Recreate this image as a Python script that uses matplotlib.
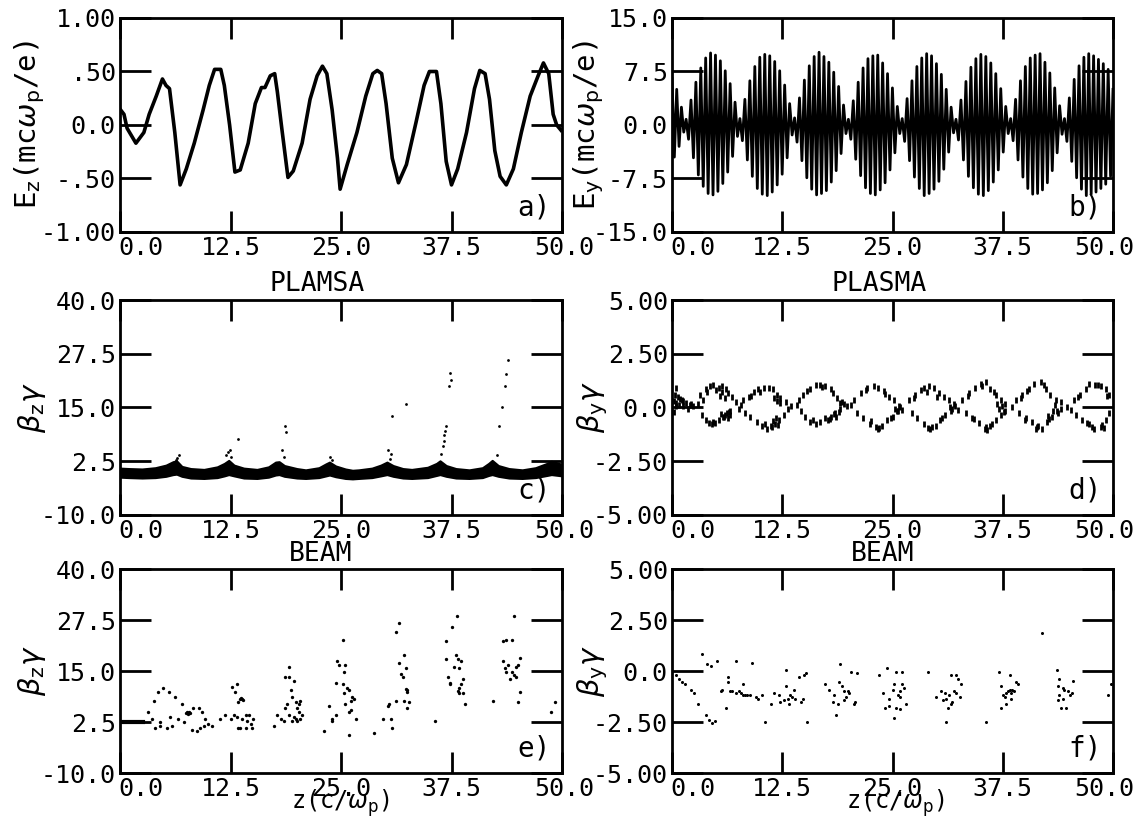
import numpy as np
import matplotlib
matplotlib.use("Agg")
import matplotlib.pyplot as plt
import matplotlib.transforms as mtrans

plt.rcParams['font.family'] = ['DejaVu Sans Mono', 'DejaVu Sans']
plt.rcParams['mathtext.fontset'] = 'dejavusans'

# ---------------- data ----------------
xticks = [0, 12.5, 25, 37.5, 50]
xtick_labels = ['0.0', '12.5', '25.0', '37.5', '50.0']

# panel a: Ez
ez_z = [0.08, 0.45, 0.8, 1.8, 2.7, 3.3, 4.1, 4.8, 5.2, 5.6, 6.2, 6.8, 7.5, 8.4, 9.4, 10.1, 10.7, 11.4,
        11.8, 12.4, 13.0, 13.6, 14.5, 15.3, 16.0, 16.4, 17.0, 17.5, 17.8, 18.3, 19.0, 19.6, 20.6, 21.5,
        22.3, 22.9, 23.4, 24.0, 24.6, 24.9, 25.7, 26.8, 27.8, 28.6, 29.1, 29.6, 30.1, 30.8, 31.5, 32.4,
        33.5, 34.4, 35.0, 35.8, 36.3, 36.9, 37.5, 38.2, 39.2, 40.1, 40.7, 41.3, 41.8, 42.4, 43.0, 43.7,
        44.5, 45.4, 46.4, 47.3, 47.9, 48.5, 49.0, 49.4, 49.9]
ez_v = [0.14, 0.10, -0.03, -0.17, -0.07, 0.10, 0.27, 0.43, 0.37, 0.34, -0.07, -0.56, -0.41, -0.17, 0.14,
        0.37, 0.52, 0.52, 0.37, 0.0, -0.44, -0.42, -0.17, 0.20, 0.35, 0.35, 0.46, 0.48, 0.31, -0.03, -0.49,
        -0.43, -0.17, 0.24, 0.46, 0.55, 0.48, 0.14, -0.31, -0.60, -0.37, -0.07, 0.27, 0.48, 0.51, 0.48,
        0.20, -0.31, -0.54, -0.37, 0.03, 0.37, 0.50, 0.50, 0.20, -0.34, -0.56, -0.41, -0.07, 0.34, 0.51,
        0.48, 0.24, -0.24, -0.48, -0.56, -0.41, -0.07, 0.27, 0.46, 0.58, 0.48, 0.10, 0.0, -0.05]

# panel b: Ey, extrema between quiet nodes
ey_nodes = [0.0, 1.6, 7.7, 13.9, 20.0, 26.1, 32.2, 38.4, 44.5, 50.0]
ey_segments = [
    [6.5, -4.5, 5.0, -3.0, 2.5, -1.0],
    [0.8, -2.0, 3.5, -4.6, 6.0, -7.0, 8.0, -8.6, 9.4, -9.6, 10.1, -9.8, 9.8, -9.3, 9.0, -8.2, 7.6, -6.6, 5.8, -4.4, 3.2, -1.6],
    [0.9, -2.2, 3.6, -4.9, 6.2, -7.2, 8.2, -8.9, 9.5, -9.7, 9.9, -9.9, 9.7, -9.4, 8.9, -8.4, 7.6, -6.9, 5.6, -4.6, 3.0, -1.4],
    [1.0, -2.4, 3.8, -5.0, 6.3, -7.4, 8.3, -9.0, 9.6, -9.8, 10.2, -9.6, 9.6, -9.2, 8.8, -8.0, 7.4, -6.4, 5.4, -4.0, 2.8, -1.2],
    [0.8, -2.0, 3.4, -4.8, 6.0, -7.1, 8.0, -8.8, 9.3, -9.6, 9.7, -9.8, 9.8, -9.1, 8.7, -8.1, 7.2, -6.3, 5.2, -3.9, 2.6, -1.2],
    [0.9, -2.3, 3.7, -5.0, 6.2, -7.3, 8.2, -8.9, 9.4, -9.9, 10.0, -9.6, 9.7, -9.0, 8.6, -7.9, 7.1, -6.2, 5.0, -3.8, 2.5, -1.1],
    [0.8, -2.1, 3.5, -4.9, 6.1, -7.2, 8.1, -8.8, 9.3, -9.7, 9.9, -9.9, 9.6, -9.2, 8.7, -8.0, 7.2, -6.3, 5.1, -3.8, 2.6, -1.2],
    [0.9, -2.2, 3.6, -4.9, 6.2, -7.3, 8.2, -8.9, 9.4, -9.7, 9.8, -9.6, 10.0, -9.1, 8.8, -8.1, 7.3, -6.4, 5.2, -3.9, 2.7, -1.3],
    [0.9, -2.3, 3.8, -5.1, 6.4, -7.4, 8.3, -9.0, 9.5, -9.9, 10.0, -9.7, 9.7, -9.4, 9.2, -8.9, 8.6, -8.3, 7.8, -7.2],
]
ey_last = 5.0

# panel c: plasma beta_z gamma (dense band + sparse particles)
c_band_z = [0, 1, 2.5, 4, 5.2, 6.0, 6.4, 7.0, 8.0, 9.5, 11.0, 11.8, 12.3, 12.9, 14.0, 15.5, 16.8, 17.6,
            18.0, 18.6, 20.0, 21.0, 22.5, 23.3, 23.7, 24.4, 25.5, 26.3, 27.0, 28.5, 29.5, 30.2, 30.9,
            32.0, 33.0, 34.8, 35.8, 36.2, 36.9, 38.0, 39.5, 41.0, 41.7, 42.1, 42.8, 44.0, 45.5, 47.0,
            48.3, 48.8, 50.0]
c_band_hi = [0.9, 0.8, 0.7, 1.0, 1.6, 2.4, 2.6, 1.3, 0.8, 0.6, 1.2, 2.0, 2.7, 1.6, 0.9, 0.6, 1.2, 2.3,
             2.4, 1.5, 0.8, 0.5, 1.0, 1.9, 2.3, 1.4, 0.7, 0.4, 0.5, 0.9, 1.6, 2.3, 1.5, 0.8, 0.6, 1.1,
             2.0, 2.6, 1.5, 0.8, 0.5, 1.0, 2.0, 2.7, 1.5, 0.8, 0.5, 1.0, 2.0, 2.5, 1.8]
c_band_lo = [-1.2, -1.3, -1.4, -1.3, -1.0, -0.6, -0.5, -1.0, -1.4, -1.5, -1.3, -0.9, -0.6, -0.9, -1.4,
             -1.5, -1.2, -0.7, -0.6, -1.0, -1.4, -1.5, -1.3, -0.9, -0.7, -1.1, -1.5, -1.6, -1.5, -1.3,
             -0.9, -0.6, -1.0, -1.4, -1.5, -1.3, -0.8, -0.6, -1.0, -1.4, -1.5, -1.3, -0.8, -0.6, -1.0,
             -1.4, -1.5, -1.3, -0.8, -0.6, -0.9]
c_pts_z = [6.7, 6.3, 6.5, 12.2, 12.4, 12.0, 12.6, 13.4, 18.7, 18.8, 18.3, 18.5, 23.8, 24.0, 30.8, 32.3,
           30.3, 30.5, 30.6, 37.3, 37.4, 37.2, 36.9, 36.8, 36.7, 36.6, 36.5, 36.3, 43.9, 43.7, 43.5,
           43.2, 42.9, 42.6]
c_pts_y = [3.9, 2.9, 3.3, 4.7, 5.2, 4.0, 3.4, 7.7, 10.7, 9.4, 5.2, 3.4, 3.4, 2.8, 13.0, 15.7, 5.2, 3.0,
           4.2, 23.1, 21.4, 20.1, 10.7, 9.6, 8.6, 7.3, 6.0, 4.3, 26.1, 22.7, 20.0, 15.0, 10.7, 3.9]

# panel d: plasma beta_y gamma
d_z = [0.2, 0.3, 0.5, 0.7, 0.9, 1.1, 1.3, 1.6, 2.0, 2.4, 0.2, 0.5, 0.8, 1.2, 1.8, 0.4, 2.2,
       3.2, 3.8, 4.3, 4.7, 5.3, 5.7, 6.1, 6.4, 6.8, 7.2, 3.4, 3.8, 4.2, 4.7, 5.3, 5.9, 6.2, 6.6,
       5.6, 5.8, 6.0, 6.3, 6.5, 5.4, 5.7, 6.0, 4.5, 4.9, 3.5, 4.0, 5.0, 6.6, 2.9,
       8.1, 8.7, 9.3, 9.8, 10.4, 11.0, 11.5, 11.9, 12.3, 12.9, 8.3, 8.9, 9.6, 10.2, 10.8, 11.3, 11.7,
       12.1, 12.7, 13.2, 11.6, 11.9, 12.2, 11.8, 12.0, 11.5, 7.8, 7.6, 13.5, 9.0, 10.0, 10.6, 11.2,
       14.4, 14.9, 15.7, 16.3, 16.8, 17.4, 18.0, 18.3, 18.7, 19.3, 14.6, 15.1, 15.7, 16.3, 16.8, 17.4,
       18.0, 18.5, 19.1, 18.4, 18.6, 18.9, 19.0, 19.5, 19.8, 17.9, 14.2, 15.3, 16.0, 17.0, 17.7,
       20.6, 21.4, 22.1, 22.9, 23.4, 24.0, 24.6, 25.2, 25.7, 21.0, 21.7, 22.5, 23.3, 23.8, 24.4, 25.0,
       25.5, 25.3, 25.6, 25.9, 26.1, 23.1, 23.5, 20.3, 22.0, 22.6, 24.2, 24.8,
       26.9, 27.6, 28.6, 29.1, 29.7, 30.3, 30.8, 31.4, 32.0, 27.2, 27.8, 28.6, 29.3, 29.9, 30.4, 31.0,
       31.6, 31.8, 32.1, 32.4, 31.5, 29.0, 28.9, 30.0, 28.2, 29.5, 30.6, 27.4,
       32.9, 33.7, 34.4, 35.0, 35.6, 36.1, 36.7, 37.3, 37.8, 33.3, 34.0, 34.8, 35.6, 36.1, 36.7, 37.3,
       37.8, 36.9, 37.1, 37.4, 37.6, 35.5, 35.7, 36.5, 34.2, 35.2, 36.3, 33.6,
       39.0, 39.7, 40.5, 41.0, 41.8, 42.4, 42.9, 43.5, 44.1, 39.3, 40.1, 40.8, 41.4, 42.0, 42.5, 43.1,
       43.7, 44.1, 42.6, 42.8, 43.2, 43.4, 43.8, 40.0, 41.3, 38.6, 40.3, 41.5, 42.2, 39.6,
       45.6, 46.3, 46.9, 47.3, 48.0, 48.6, 49.2, 45.8, 46.5, 47.3, 47.8, 48.6, 49.2, 49.5, 48.8, 49.0,
       49.3, 47.0, 45.2, 44.8, 46.0, 47.6, 48.3, 49.6]
d_y = [0.3, 0.6, 0.2, 0.5, 0.4, 0.35, 0.3, 0.2, 0.1, 0.05, -0.2, 0.05, 0.1, 0.05, -0.05, 0.9, 0.15,
       0.6, 0.85, 1.0, 1.05, 0.93, 1.0, 0.85, 0.68, 0.5, 0.25, -0.34, -0.6, -0.7, -0.68, -0.6, -0.42,
       -0.25, -0.14, -0.3, -0.45, -0.35, -0.5, -0.2, 0.55, 0.7, 0.45, -0.75, -0.72, 0.35, 0.7, 0.8,
       -0.35, 0.15,
       0.34, 0.5, 0.7, 0.85, 0.93, 0.93, 0.85, 0.6, 0.42, 0.25, -0.25, -0.42, -0.68, -0.88, -0.98, -0.93,
       -0.76, -0.6, -0.34, -0.08, 0.45, 0.3, 0.2, -0.5, -0.8, -0.65, 0.1, -0.05, 0.05, 0.55, 0.7, -0.75,
       -0.85,
       0.34, 0.6, 0.88, 1.05, 1.05, 1.0, 0.85, 0.68, 0.42, 0.25, -0.17, -0.42, -0.68, -0.76, -0.68, -0.5,
       -0.42, -0.25, -0.08, -0.3, -0.45, -0.2, 0.2, 0.15, 0.05, -0.55, 0.1, 0.75, -0.6, 0.95, -0.6,
       0.34, 0.68, 0.93, 1.0, 0.93, 0.76, 0.5, 0.34, 0.08, -0.25, -0.5, -0.76, -0.98, -0.85, -0.6, -0.42,
       -0.17, -0.05, -0.15, 0.0, -0.1, -0.9, -0.95, 0.1, 0.8, -0.65, 0.65, -0.5,
       0.34, 0.6, 0.93, 1.0, 0.93, 0.68, 0.5, 0.34, 0.17, -0.25, -0.5, -0.76, -0.98, -0.85, -0.6, -0.34,
       -0.17, -0.05, 0.05, -0.1, 0.0, -0.95, 0.7, 0.5, 0.8, -0.9, -0.5, 0.45,
       0.34, 0.68, 0.93, 1.1, 1.2, 0.85, 0.6, 0.37, 0.17, -0.25, -0.5, -0.7, -0.93, -0.85, -0.6, -0.34,
       -0.17, 0.15, -0.05, 0.05, -0.2, -1.0, -1.05, 0.7, -0.55, 1.0, -0.75, 0.55,
       0.34, 0.6, 0.85, 1.1, 1.2, 0.88, 0.6, 0.34, 0.25, -0.25, -0.5, -0.68, -0.93, -0.98, -0.68, -0.42,
       -0.17, -0.08, -0.4, -0.55, -0.15, 0.1, -0.25, -0.6, -1.0, 0.0, 0.75, -0.85, 1.05, 0.45,
       0.37, 0.6, 0.88, 1.1, 1.05, 1.0, 0.85, -0.34, -0.6, -0.76, -0.98, -0.93, -0.6, -0.25, -0.8, -0.95,
       0.55, -0.7, -0.1, 0.0, 0.5, -0.9, 1.05, 0.6]

# panel e: beam beta_z gamma
e_line_z = [0.1, 2.6]
e_line_y = [2.6, 2.6]
e_z = [3.8, 4.3, 4.9, 5.5, 6.2, 7.0, 7.6, 7.9, 8.3, 8.9, 9.3, 9.6, 10.0, 10.4,
       3.2, 3.6, 4.0, 4.5, 5.3, 5.9, 6.6, 7.2, 8.1, 8.7, 9.1, 9.5, 7.5, 7.7, 7.8, 4.5, 5.6,
       11.3, 11.9, 12.5, 12.7, 13.0, 13.2, 13.6, 13.8, 13.4, 12.9, 13.2, 13.8, 14.2, 14.4, 14.6, 15.1,
       13.4, 13.6, 14.2, 14.9, 14.8, 13.7, 13.9,
       17.4, 17.8, 18.2, 18.5, 18.7, 18.9, 18.7, 19.1, 19.1, 19.7, 19.3, 19.5, 19.9, 20.0, 20.2, 20.4,
       20.2, 20.0, 20.4, 20.6, 19.7, 19.9, 19.1, 19.5,
       23.1, 23.6, 24.0, 24.4, 24.4, 24.6, 24.8, 25.2, 25.3, 25.5, 25.2, 25.3, 25.7, 25.9, 26.1, 26.3,
       26.5, 25.9, 26.1, 25.5, 25.9, 26.7, 24.0,
       28.7, 29.7, 30.3, 30.4, 30.6, 30.8, 31.2, 31.6, 31.8, 31.2, 31.6, 32.0, 32.1, 32.3, 32.5, 32.7,
       32.5, 32.1, 32.3, 32.5,
       35.6, 36.9, 37.6, 38.1, 36.9, 37.1, 37.3, 38.0, 38.2, 38.4, 38.6, 38.8, 38.6, 38.4, 38.2, 38.8,
       39.0, 37.3, 37.8, 38.4,
       42.2, 43.3, 43.7, 44.6, 44.3, 43.3, 43.5, 43.9, 44.1, 44.4, 44.6, 44.8, 45.0, 45.2, 45.2, 45.0,
       44.8, 43.7, 48.8, 49.2]
e_y = [7.7, 9.9, 10.8, 9.9, 8.6, 6.8, 5.0, 4.6, 5.9, 5.9, 5.0, 3.3, 1.9, 1.5,
       5.0, 3.3, 1.1, 2.4, 1.1, 1.5, 3.3, 2.4, 0.6, 0.2, 1.1, 1.5, 4.8, 4.5, 4.9, 1.5, 3.7,
       3.3, 4.2, 3.3, 11.2, 9.9, 11.7, 8.1, 8.1, 7.3, 4.2, 3.7, 3.3, 4.2, 2.8, 4.2, 3.3,
       1.1, 1.1, 1.1, 1.1, 1.9, 8.4, 7.9,
       1.5, 4.2, 3.3, 2.8, 5.9, 6.8, 13.5, 13.5, 16.1, 12.6, 10.4, 8.6, 7.3, 5.9, 6.8, 7.7,
       5.0, 2.8, 3.3, 4.2, 3.7, 3.3, 4.2, 2.8,
       0.2, 6.4, 3.3, 4.2, 12.1, 17.4, 16.5, 22.7, 14.8, 16.5, 11.7, 9.5, 10.8, 10.4, 7.7, 8.6,
       8.1, 5.0, 5.5, 6.8, -0.7, 3.3, 2.8,
       -0.3, 3.3, 6.4, 6.8, 3.3, 1.1, 7.7, 17.0, 14.3, 24.5, 26.7, 13.5, 18.8, 15.7, 10.4, 7.3,
       5.9, 7.7, 10.5, 9.9,
       2.7, 22.3, 25.8, 28.5, 17.9, 13.5, 11.7, 18.8, 17.9, 15.7, 17.4, 13.0, 11.7, 10.8, 10.0, 9.5,
       6.8, 12.1, 16.1, 9.5,
       7.7, 22.3, 22.7, 28.5, 22.7, 17.4, 15.7, 16.5, 13.0, 14.8, 13.9, 13.5, 16.5, 18.3, 9.9, 7.3,
       16.1, 14.8, 5.0, 7.3]

# panel f: beam beta_y gamma
f_z = [0.4, 0.8, 1.1, 1.5, 2.1, 2.5,
       3.4, 4.0, 4.4, 3.0, 3.8, 4.2, 4.5, 4.9, 5.1, 5.5, 5.7, 6.3, 6.4, 6.6, 6.8, 7.2, 7.2, 7.6, 7.8,
       8.0, 8.1, 8.3, 8.5, 8.9, 9.1, 9.5, 9.8, 10.2, 10.6, 6.1,
       11.2, 11.6, 12.1, 12.3, 12.7, 12.9, 13.1, 13.3, 13.4, 13.6, 13.8, 14.0, 14.4, 14.6, 14.8, 15.2,
       15.3, 15.0, 12.9,
       17.4, 17.8, 18.4, 18.6, 18.8, 18.9, 19.1, 19.3, 19.5, 19.7, 19.9, 20.1, 20.3, 20.6, 20.8, 21.0,
       19.5, 18.2,
       23.5, 23.9, 24.2, 24.4, 24.6, 25.0, 25.2, 25.4, 25.4, 25.6, 25.8, 25.9, 26.1, 26.3, 26.5, 26.1,
       25.2, 25.8, 24.6,
       29.0, 29.9, 30.5, 30.7, 31.1, 31.1, 31.3, 31.4, 31.6, 31.8, 32.0, 32.2, 32.6, 32.8, 32.2, 32.4,
       31.6, 30.9,
       35.6, 37.1, 37.3, 37.5, 37.7, 37.9, 38.1, 38.3, 38.4, 38.6, 38.8, 39.0, 38.3, 37.9, 37.3, 38.4,
       39.2, 42.0,
       43.6, 43.8, 43.9, 44.3, 44.5, 44.9, 45.3, 45.5, 45.1, 43.8, 44.1, 44.7, 43.9, 44.3, 49.8, 49.4]
f_y = [-0.21, -0.39, -0.56, -0.65, -0.91, -1.09,
       0.81, 0.32, 0.23, -1.61, -2.14, -2.40, -2.53, -2.46, 0.49, -1.0, -0.91, -0.30, -0.56, -1.0, -1.0,
       0.49, -1.09, -1.0, -1.09, -1.18, -0.65, -1.18, -1.18, -1.18, 0.40, -1.26, -1.35, -1.18, -2.49, -1.79,
       -1.61, -1.09, -1.18, -1.53, -1.44, 0.05, -1.35, -1.61, -1.18, -1.26, -0.91, -1.35, -0.30, -1.53,
       -1.35, -0.12, -2.49, -0.21, -0.74,
       -0.65, -0.91, -1.18, -2.14, -1.61, -0.56, 0.32, -0.74, -1.0, -1.26, -1.0, -1.09, -0.04, -1.61,
       -1.53, -0.12, -1.44, -1.53,
       -0.21, -1.09, -1.79, 0.14, -1.70, -0.91, -0.65, -1.79, -0.04, -1.18, -1.0, -1.26, -0.65, -0.82,
       -1.61, -0.04, -2.32, -1.88, -1.35,
       -0.04, -1.26, -1.0, -1.44, -1.35, -2.49, -1.79, -1.18, -0.21, -1.53, -1.0, -1.09, -1.26, -0.65,
       -0.21, -0.39, -1.61, -1.09,
       -2.49, -0.04, -0.74, -1.18, -1.26, -1.09, -1.0, -0.91, -1.09, -0.91, -1.0, -0.56, -0.21, -1.61,
       -1.79, -1.35, -0.65, 1.86,
       0.05, -0.74, -1.18, -0.82, -0.91, -1.0, -1.09, -0.47, -1.18, -1.44, -1.79, -1.79, -0.39, -1.35,
       -0.65, -1.18]

# ---------------- figure ----------------
fig = plt.figure(figsize=(11.37, 8.21), dpi=100)

W, H = 1137.0, 821.0
cols = [(120, 562), (672, 1113)]
rows = [(18, 232), (300, 515), (569, 773)]

def rect(col, row):
    l, r = cols[col]
    t, b = rows[row]
    return [l / W, 1 - b / H, (r - l) / W, (b - t) / H]

TS = 18

def shift(txt, dx_px):
    txt.set_transform(txt.get_transform() +
                      mtrans.ScaledTranslation(dx_px / 100.0, 0, fig.dpi_scale_trans))

def style(ax, yt, ylab, ylim, label, ylab_x, last_dx):
    ax.set_xlim(0, 50)
    ax.set_ylim(*ylim)
    ax.set_xticks(xticks)
    ax.set_xticklabels(xtick_labels, fontsize=TS)
    ax.set_yticks(yt[0])
    ax.set_yticklabels(yt[1], fontsize=TS)
    ax.tick_params(axis='x', direction='in', length=15, width=2, top=True, bottom=True, pad=3)
    ax.tick_params(axis='y', direction='in', length=22, width=2, left=True, right=True, pad=3)
    for s in ax.spines.values():
        s.set_linewidth(2)
    labs = ax.get_xticklabels()
    labs[0].set_ha('left')
    shift(labs[0], -2)
    shift(labs[-1], last_dx)
    ax.set_ylabel(ylab, fontsize=21, va='center')
    ax.yaxis.set_label_coords(ylab_x, 0.5)
    ax.text(0.975, 0.05, label, transform=ax.transAxes, ha='right', va='bottom', fontsize=20)

def xlabel(ax, xfrac):
    ax.annotate(r'z(c/$\omega_{\rm p}$)', xy=(xfrac, 2), xycoords=('axes fraction', 'figure pixels'),
                ha='center', va='bottom', fontsize=17)

# a
ax = fig.add_axes(rect(0, 0))
ax.plot(ez_z, ez_v, color='black', lw=2.6)
style(ax, ([1, .5, 0, -.5, -1], ['1.00', '.50', '0.0', '-.50', '-1.00']),
      r'E$_{\rm z}$(mc$\omega_{\rm p}$/e)', (-1, 1), 'a)', -0.205, 2)

# b
ax = fig.add_axes(rect(1, 0))
bz, bv = [], []
for i, seg in enumerate(ey_segments):
    zz = np.linspace(ey_nodes[i], ey_nodes[i + 1], len(seg), endpoint=False)
    bz.extend(zz)
    bv.extend(seg)
bz.append(ey_nodes[-1])
bv.append(ey_last)
ax.plot(bz, bv, color='black', lw=2.0)
style(ax, ([15, 7.5, 0, -7.5, -15], ['15.0', '7.5', '0.0', '-7.5', '-15.0']),
      r'E$_{\rm y}$(mc$\omega_{\rm p}$/e)', (-15, 15), 'b)', -0.19, -9)

# c
ax = fig.add_axes(rect(0, 1))
ax.fill_between(c_band_z, c_band_lo, c_band_hi, color='black', lw=1.5, edgecolor='black')
ax.plot(c_pts_z, c_pts_y, 'o', color='black', ms=2.0, mew=0)
style(ax, ([40, 27.5, 15, 2.5, -10], ['40.0', '27.5', '15.0', '2.5', '-10.0']),
      r'$\beta_{\rm z}\gamma$', (-10, 40), 'c)', -0.2, 2)
ax.text(0.446, 1.012, 'PLAMSA', transform=ax.transAxes, ha='center', va='bottom', fontsize=19)

# d
ax = fig.add_axes(rect(1, 1))
ax.plot(d_z, d_y, '|', color='black', ms=4.5, mew=2.0)
style(ax, ([5, 2.5, 0, -2.5, -5], ['5.00', '2.50', '0.0', '-2.50', '-5.00']),
      r'$\beta_{\rm y}\gamma$', (-5, 5), 'd)', -0.18, -9)
ax.text(0.469, 1.012, 'PLASMA', transform=ax.transAxes, ha='center', va='bottom', fontsize=19)

# e
ax = fig.add_axes(rect(0, 2))
ax.plot(e_line_z, e_line_y, color='black', lw=3)
ax.plot(e_z, e_y, 'o', color='black', ms=2.4, mew=0)
style(ax, ([40, 27.5, 15, 2.5, -10], ['40.0', '27.5', '15.0', '2.5', '-10.0']),
      r'$\beta_{\rm z}\gamma$', (-10, 40), 'e)', -0.2, 2)
ax.text(0.455, 1.012, 'BEAM', transform=ax.transAxes, ha='center', va='bottom', fontsize=19)
xlabel(ax, 0.5)

# f
ax = fig.add_axes(rect(1, 2))
ax.plot(f_z, f_y, 'o', color='black', ms=2.2, mew=0)
style(ax, ([5, 2.5, 0, -2.5, -5], ['5.00', '2.50', '0.0', '-2.50', '-5.00']),
      r'$\beta_{\rm y}\gamma$', (-5, 5), 'f)', -0.18, -9)
ax.text(0.478, 1.012, 'BEAM', transform=ax.transAxes, ha='center', va='bottom', fontsize=19)
xlabel(ax, 0.508)

fig.savefig('out.png', dpi=100)
